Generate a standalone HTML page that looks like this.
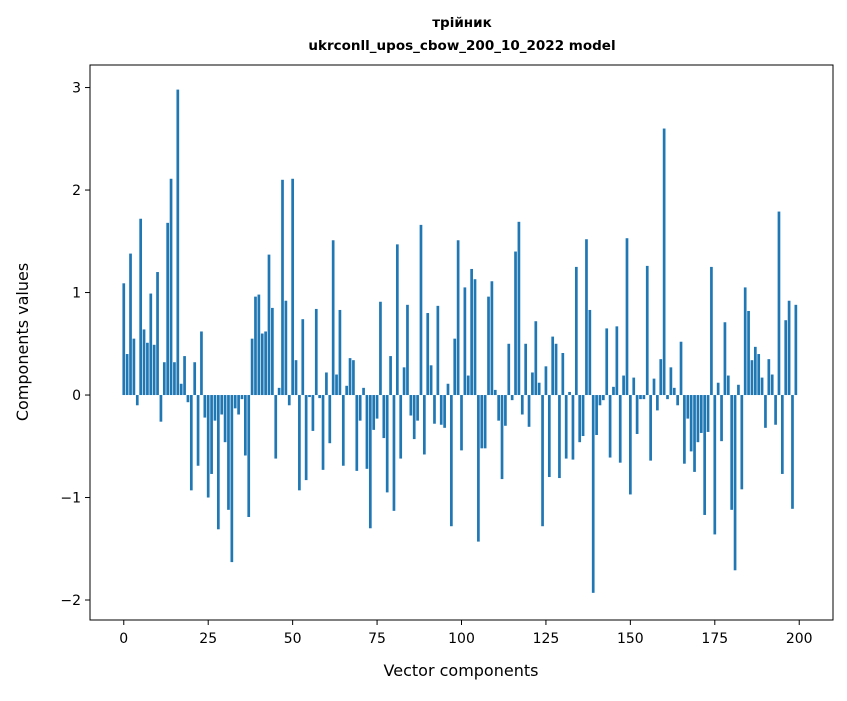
<!DOCTYPE html>
<html><head><meta charset="utf-8"><style>
body{margin:0;background:#fff;font-family:"Liberation Sans","DejaVu Sans",sans-serif;}
svg text{font-family:"DejaVu Sans","Liberation Sans",sans-serif;}
</style></head><body>
<svg id="chart" width="847" height="696" xmlns="http://www.w3.org/2000/svg">
<rect x="0" y="0" width="847" height="696" fill="#fff"/>
<text x="462" y="27" text-anchor="middle" font-size="13.5" font-weight="bold">трійник</text>
<text x="462" y="50" text-anchor="middle" font-size="13.5" font-weight="bold">ukrconll_upos_cbow_200_10_2022 model</text>
<g id="bars"></g>
<g id="axes"></g>
<rect x="90" y="65" width="743" height="555" fill="none" stroke="#000" stroke-width="1"/>
<text x="461" y="676" text-anchor="middle" font-size="16">Vector components</text>
<text transform="translate(28,342) rotate(-90)" text-anchor="middle" font-size="16">Components values</text>
</svg>
<script>
const values = [1.09,0.40,1.38,0.55,-0.10,1.72,0.64,0.51,0.99,0.49,1.20,-0.26,0.32,1.68,2.11,0.32,2.98,0.11,0.38,-0.07,
-0.93,0.32,-0.69,0.62,-0.22,-1.00,-0.77,-0.25,-1.31,-0.19,-0.46,-1.12,-1.63,-0.13,-0.19,-0.04,-0.59,-1.19,0.55,0.96,
0.98,0.60,0.62,1.37,0.85,-0.62,0.07,2.10,0.92,-0.10,2.11,0.34,-0.93,0.74,-0.83,-0.02,-0.35,0.84,-0.03,-0.73,
0.22,-0.47,1.51,0.20,0.83,-0.69,0.09,0.36,0.34,-0.74,-0.25,0.07,-0.72,-1.30,-0.34,-0.23,0.91,-0.42,-0.95,0.38,
-1.13,1.47,-0.62,0.27,0.88,-0.20,-0.43,-0.25,1.66,-0.58,0.80,0.29,-0.28,0.87,-0.29,-0.32,0.11,-1.28,0.55,1.51,
-0.54,1.05,0.19,1.23,1.13,-1.43,-0.52,-0.52,0.96,1.11,0.05,-0.25,-0.82,-0.30,0.50,-0.05,1.40,1.69,-0.19,0.50,
-0.31,0.22,0.72,0.12,-1.28,0.28,-0.80,0.57,0.50,-0.81,0.41,-0.62,0.03,-0.63,1.25,-0.46,-0.40,1.52,0.83,-1.93,
-0.39,-0.10,-0.05,0.65,-0.61,0.08,0.67,-0.66,0.19,1.53,-0.97,0.17,-0.38,-0.04,-0.04,1.26,-0.64,0.16,-0.15,0.35,
2.60,-0.04,0.27,0.07,-0.10,0.52,-0.67,-0.23,-0.55,-0.75,-0.46,-0.37,-1.17,-0.36,1.25,-1.36,0.12,-0.45,0.71,0.19,
-1.12,-1.71,0.10,-0.92,1.05,0.82,0.34,0.47,0.40,0.17,-0.32,0.35,0.20,-0.29,1.79,-0.77,0.73,0.92,-1.11,0.88];
const xTicks = [0,25,50,75,100,125,150,175,200];
const yTicks = [-2,-1,0,1,2,3];
const yTickLabels = ["\u22122","\u22121","0","1","2","3"];

const X0=90, X1=833, Y0=65, Y1=620;
const xMin=-10, xMax=210, yMin=-2.195, yMax=3.22;
const xs = v => X0 + (v-xMin)/(xMax-xMin)*(X1-X0);
const ys = v => Y1 - (v-yMin)/(yMax-yMin)*(Y1-Y0);
const NS="http://www.w3.org/2000/svg";
const bars=document.getElementById('bars');
const bw = xs(0.4)-xs(-0.4);
values.forEach((v,i)=>{
  const r=document.createElementNS(NS,'rect');
  const top=ys(Math.max(v,0)), bot=ys(Math.min(v,0));
  r.setAttribute('x', xs(i)-bw/2);
  r.setAttribute('y', top);
  r.setAttribute('width', bw);
  r.setAttribute('height', Math.max(bot-top,0.01));
  r.setAttribute('fill','#1f77b4');
  
  
  bars.appendChild(r);
});
const axes=document.getElementById('axes');
xTicks.forEach(t=>{
  const l=document.createElementNS(NS,'line');
  l.setAttribute('x1',xs(t));l.setAttribute('x2',xs(t));l.setAttribute('y1',Y1);l.setAttribute('y2',Y1+5);
  l.setAttribute('stroke','#000');
  
  
  axes.appendChild(l);
  const tx=document.createElementNS(NS,'text');
  tx.setAttribute('x',xs(t));tx.setAttribute('y',Y1+23);tx.setAttribute('text-anchor','middle');tx.setAttribute('font-size','14');
  tx.textContent=t;
  
  
  axes.appendChild(tx);
});
yTicks.forEach((t,i)=>{
  const l=document.createElementNS(NS,'line');
  l.setAttribute('x1',X0-5);l.setAttribute('x2',X0);l.setAttribute('y1',ys(t));l.setAttribute('y2',ys(t));
  l.setAttribute('stroke','#000');
  
  
  axes.appendChild(l);
  const tx=document.createElementNS(NS,'text');
  tx.setAttribute('x',X0-9);tx.setAttribute('y',ys(t)+5);tx.setAttribute('text-anchor','end');tx.setAttribute('font-size','14');
  tx.textContent=yTickLabels[i];
  
  
  axes.appendChild(tx);
});
</script>
</body></html>
